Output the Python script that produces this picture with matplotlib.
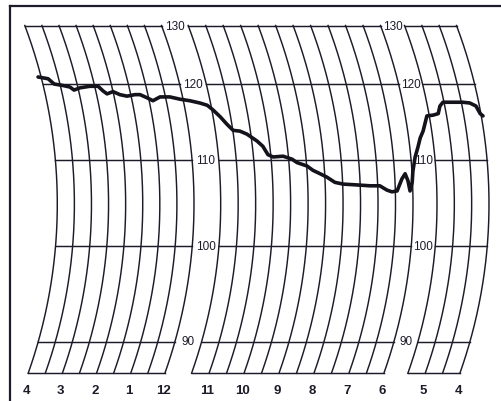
import numpy as np
import matplotlib
matplotlib.use("Agg")
import matplotlib.pyplot as plt
from matplotlib.transforms import Transform

# ---------------- data ----------------
# position along the chart in hours, counted from the left-hand "4" line
trace_hours = [-0.09, 0.19, 0.33, 0.58, 0.77, 0.87, 1.06, 1.36, 1.60, 1.71,
               1.81, 2.00, 2.18, 2.38, 2.62, 2.77, 2.95, 3.11, 3.34, 3.63,
               3.91, 4.12, 4.30, 4.43, 4.53, 4.70, 4.86, 5.01, 5.20, 5.39,
               5.65, 5.80, 5.92, 6.06, 6.35, 6.60, 6.73, 7.01, 7.17, 7.37,
               7.56, 7.78, 8.01, 8.41, 8.78, 9.06, 9.26, 9.40, 9.55, 9.70,
               9.80, 9.87, 9.92, 9.99, 10.02, 10.09, 10.17, 10.24, 10.32, 10.45,
               10.61, 10.77, 10.86, 10.97, 11.26, 11.54, 11.74, 11.90, 11.98, 12.05]
trace_values = [121.2, 120.9, 120.0, 119.8, 119.6, 119.2, 119.5, 119.7, 119.7, 119.1,
                118.7, 119.0, 118.6, 118.4, 118.6, 118.6, 118.2, 117.8, 118.3, 118.3,
                118.0, 117.8, 117.5, 117.2, 116.6, 115.7, 114.7, 113.9, 113.8, 113.4,
                112.5, 111.8, 110.7, 110.4, 110.5, 110.1, 109.7, 109.3, 108.8, 108.4,
                108.0, 107.4, 107.2, 107.1, 107.0, 107.0, 106.5, 106.3, 106.4, 107.8,
                108.4, 107.6, 106.4, 107.4, 108.7, 110.4, 111.7, 112.9, 113.8, 115.8,
                115.9, 116.1, 117.1, 117.6, 117.6, 117.6, 117.5, 117.1, 116.1, 115.8]

hour_labels = ["4", "3", "2", "1", "12", "11", "10", "9", "8", "7", "6", "5", "4"]
value_lines = [87, 90, 100, 110, 120, 130]
value_labels = [90, 100, 110, 120, 130]
panels = [(0.0, 4.0), (4.5, 10.0), (10.5, 12.0)]   # printed grid bands (hours)
label_gaps = [4.25, 10.25]                          # value labels sit in the gaps

# ---------------- chart-paper geometry (layout) ----------------
E_KNOTS = [-1, 0, 4, 4.5, 10, 10.5, 12, 13]
X_KNOTS = [-9.4, 24.8, 161.5, 188.2, 380.5, 404.5, 456.5, 491.2]
V_KNOTS = [80, 87, 90, 100, 110, 120, 130, 140]
Y_KNOTS = [448.5, 374.3, 342.5, 247.0, 161.0, 85.0, 26.5, -32.0]
ARC_R, ARC_YC, ARC_YTOP = 506.4, 205.0, 26.5


def bulge(y):
    return np.sqrt(ARC_R ** 2 - (y - ARC_YC) ** 2) - np.sqrt(ARC_R ** 2 - (ARC_YTOP - ARC_YC) ** 2)


class ChartPaper(Transform):
    """(hours, value) -> position on the curvilinear recorder chart."""
    input_dims = 2
    output_dims = 2
    is_separable = False
    has_inverse = False

    def transform_non_affine(self, values):
        values = np.asarray(values, dtype=float).reshape(-1, 2)
        e, v = values[:, 0], values[:, 1]
        y = np.interp(v, V_KNOTS, Y_KNOTS)
        x = np.interp(e, E_KNOTS, X_KNOTS) + bulge(y)
        return np.column_stack([x, y])


INK = "#1d1b29"
TRACE = "#14121a"

fig = plt.figure(figsize=(5.02, 4.02), dpi=100)
fig.patch.set_facecolor("white")
ax = fig.add_axes([10 / 502, 0, 492 / 502, (402 - 6.7) / 402])
ax.set_xlim(10, 502)
ax.set_ylim(402, 6.7)
ax.set_xticks([])
ax.set_yticks([])
for side in ("right", "bottom"):
    ax.spines[side].set_visible(False)
for side in ("left", "top"):
    ax.spines[side].set_linewidth(1.6)
    ax.spines[side].set_color(INK)

tr = ChartPaper() + ax.transData

# grid
vv = np.linspace(min(value_lines), max(value_lines), 200)
for (e0, e1) in panels:
    for e in np.arange(e0, e1 + 0.01, 0.5):
        ax.plot(np.full_like(vv, e), vv, color=INK, lw=1.05, transform=tr, zorder=1,
                clip_on=False)
    ee = np.linspace(e0, e1, 20)
    for v in value_lines:
        ax.plot(ee, np.full_like(ee, v), color=INK, lw=1.05, transform=tr, zorder=1,
                clip_on=False)

# value labels in the gaps
for g in label_gaps:
    for v in value_labels:
        ax.text(g, v, str(v), transform=tr, ha="center", va="center",
                fontsize=8.5, family="Liberation Sans", color=INK, zorder=2)

# hour labels under the bottom edge
for h, lbl in enumerate(hour_labels):
    ax.annotate(lbl, xy=(h, min(value_lines)), xycoords=tr, xytext=(-1.2, -12),
                textcoords="offset points", ha="center", va="center",
                fontsize=9.5, fontweight="bold", family="Liberation Sans", color=INK,
                annotation_clip=False)

# recorded trace
ax.plot(trace_hours, trace_values, color=TRACE, lw=2.6, transform=tr, zorder=3,
        solid_joinstyle="round", solid_capstyle="round", clip_on=False)

fig.savefig("out.png", dpi=100, facecolor="white")
